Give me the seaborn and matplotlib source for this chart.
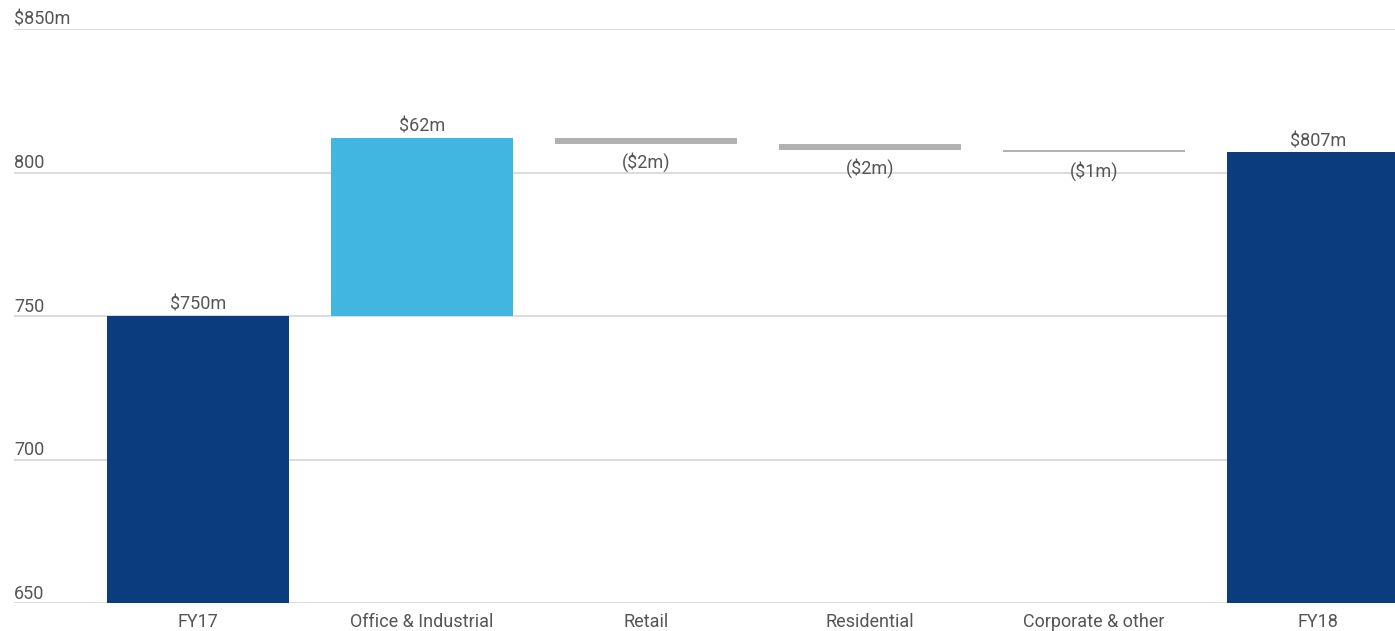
import matplotlib
matplotlib.use("Agg")
import matplotlib.pyplot as plt
import seaborn as sns
import numpy as np

categories = ["FY17", "Office & Industrial", "Retail", "Residential", "Corporate & other", "FY18"]
changes = [750, 62, -2, -2, -1, 807]
kinds = ["total", "delta", "delta", "delta", "delta", "total"]
labels = ["$750m", "$62m", "($2m)", "($2m)", "($1m)", "$807m"]
ytick_values = [650, 700, 750, 800, 850]
ytick_labels = ["650", "700", "750", "800", "$850m"]

NAVY = "#0B3C7D"
SKY = "#41B6E0"
GREY = "#B1B3B3"
TEXT = "#555555"

sns.set_theme(style="white")
plt.rcParams["font.family"] = ["Roboto", "DejaVu Sans"]

fig = plt.figure(figsize=(13.95, 6.31), dpi=100)
ax = fig.add_axes([14 / 1395, 28 / 631, 1 - 14 / 1395, (603 - 29) / 631])

bottoms, heights, colors = [], [], []
running = 0
for c, k in zip(changes, kinds):
    if k == "total":
        bottoms.append(650)
        heights.append(c - 650)
        colors.append(NAVY)
        running = c
    else:
        bottoms.append(running)
        heights.append(c)
        colors.append(SKY if c > 0 else GREY)
        running += c

for gv in ytick_values:
    ax.axhline(gv, color="#d2d2d2", lw=1.1, zorder=0)

for i, cat in enumerate(categories):
    sns.barplot(x=[cat], y=[heights[i]], bottom=bottoms[i], order=categories,
                color=colors[i], saturation=1, width=0.81, ax=ax, zorder=2,
                linewidth=0, edgecolor="none")

for i, lab in enumerate(labels):
    top = bottoms[i] + heights[i]
    if heights[i] >= 0:
        ax.annotate(lab, (i, top), xytext=(0, 4.5), textcoords="offset points",
                    ha="center", va="baseline", fontsize=13, color=TEXT)
    else:
        ax.annotate(lab, (i, top), xytext=(0, -6), textcoords="offset points",
                    ha="center", va="top", fontsize=13, color=TEXT)

ax.set_xlim((14 - 198) / 224, (1395 - 198) / 224)
ax.set_ylim(650, 850)
ax.set_yticks([])
ax.set_xlabel("")
ax.set_ylabel("")
for s in ax.spines.values():
    s.set_visible(False)
ax.tick_params(axis="x", length=0, pad=7, labelsize=13, labelcolor=TEXT)

trans = ax.get_yaxis_transform()
for v, t in zip(ytick_values, ytick_labels):
    ax.annotate(t, (0, v), xycoords=trans, xytext=(0, 3), textcoords="offset points",
                ha="left", va="baseline", fontsize=13, color=TEXT)

fig.savefig("out.png", dpi=100)
